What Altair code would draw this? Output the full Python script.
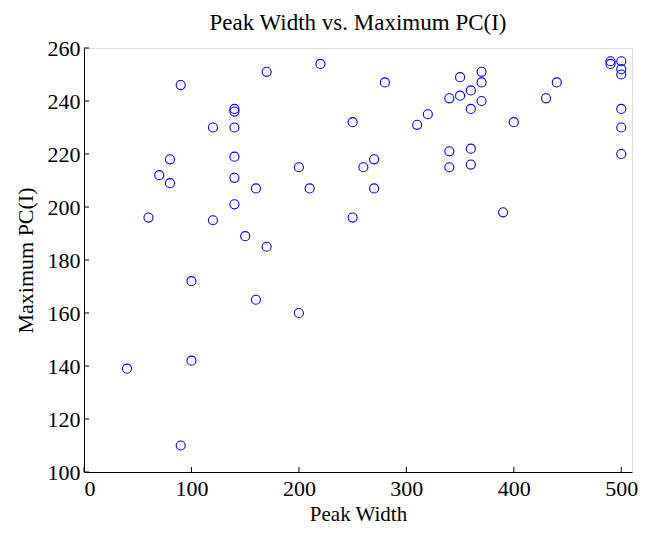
import altair as alt
import pandas as pd

peak_width = [40, 60, 70, 80, 80, 90, 90, 100, 100, 120, 120, 140, 140, 140, 140, 140, 140,
              150, 160, 160, 170, 170, 200, 200, 210, 220, 250, 250, 260, 270, 270, 280,
              310, 320, 340, 340, 340, 350, 350, 360, 360, 360, 360, 370, 370, 370, 390,
              400, 430, 440, 490, 490, 500, 500, 500, 500, 500, 500]
max_pc = [139, 196, 212, 218, 209, 246, 110, 172, 142, 230, 195, 237, 236, 230, 219, 211, 201,
          189, 207, 165, 251, 185, 215, 160, 207, 254, 232, 196, 215, 218, 207, 247,
          231, 235, 241, 221, 215, 249, 242, 244, 237, 222, 216, 251, 247, 240, 198,
          232, 241, 247, 255, 254, 255, 252, 250, 237, 230, 220]
x_ticks = [0, 100, 200, 300, 400, 500]
y_ticks = [100, 120, 140, 160, 180, 200, 220, 240, 260]

W, H = 548, 424
FONT = "Liberation Serif"
XF, YF = "Peak Width", "Maximum PC(I)"

df = pd.DataFrame({XF: peak_width, YF: max_pc})
xscale = alt.Scale(domain=[0, 510], nice=False, zero=False)
yscale = alt.Scale(domain=[100, 260], nice=False, zero=False)

points = alt.Chart(df).mark_point(
    shape="circle", filled=False, color="#0000ff", size=82, strokeWidth=1.1, opacity=1
).encode(
    x=alt.X(f"{XF}:Q", scale=xscale, title=XF,
            axis=alt.Axis(values=x_ticks, ticks=False, grid=False, labelPadding=6,
                          labelFont=FONT, labelFontSize=22, labelColor="black",
                          titleFont=FONT, titleFontSize=21, titleFontWeight="normal",
                          titleColor="black", titleY=48, titleBaseline="alphabetic",
                          domainColor="black", domainWidth=1, format="d")),
    y=alt.Y(f"{YF}:Q", scale=yscale, title=YF,
            axis=alt.Axis(values=y_ticks, ticks=False, grid=False, labelPadding=4,
                          labelFont=FONT, labelFontSize=22, labelColor="black",
                          titleFont=FONT, titleFontSize=22, titleFontWeight="normal",
                          titleColor="black", titleX=-52, titleY=H / 2, titleAngle=-90,
                          titleBaseline="alphabetic", titleAlign="center",
                          domainColor="black", domainWidth=1, format="d")),
)

xt = alt.Chart(pd.DataFrame({XF: x_ticks})).mark_rule(color="black", strokeWidth=1).encode(
    x=alt.X(f"{XF}:Q", scale=xscale), y=alt.value(H), y2=alt.value(H - 5)
)
yt = alt.Chart(pd.DataFrame({YF: y_ticks})).mark_rule(color="black", strokeWidth=1).encode(
    y=alt.Y(f"{YF}:Q", scale=yscale), x=alt.value(0), x2=alt.value(5)
)

chart = alt.layer(xt, yt, points).properties(
    width=W, height=H,
    title=alt.TitleParams("Peak Width vs. Maximum PC(I)", font=FONT, fontSize=23,
                          fontWeight="normal", color="black", anchor="middle", offset=2),
    autosize=alt.AutoSizeParams(type="none"),
    padding={"left": 76, "top": 40, "right": 12, "bottom": 53},
).configure_view(stroke=None).configure(background="white")

chart.save("out.html", embed_options={"renderer": "svg", "actions": False})
